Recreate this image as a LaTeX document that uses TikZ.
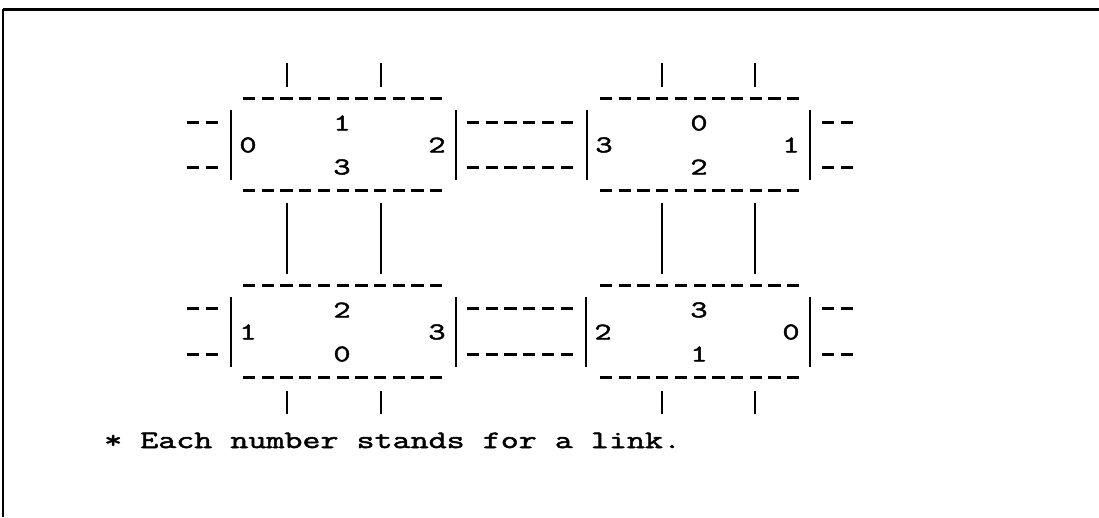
\documentclass[tikz,border=0pt]{standalone}
\usepackage{fontspec}
\newfontfamily\courfont[FakeStretch=1.4,FakeBold=2]{Latin Modern Mono}
\begin{document}
\begin{tikzpicture}[x=1pt,y=-1pt,
  dsh/.style={line width=3pt, dash pattern=on 12.3pt off 6.4pt},
  barline/.style={line width=1.8pt},
  lab/.style={font=\courfont\fontsize{24}{24}\selectfont, inner sep=0pt},
  note/.style={font=\courfont\fontsize{25}{25}\selectfont, inner sep=0pt}]
\useasboundingbox (0,0) rectangle (1099,517);
% frame
\draw[line width=3pt] (3,9) -- (1099,9);
\draw[line width=1.6pt] (3,9) -- (3,517);
% boxes
\foreach \L/\R/\T/\S/\a/\b/\c/\d/\n in {
  231/456/98/243/1/0/2/3/A,
  587/810/98/600/0/3/1/2/B,
  231/456/285/243/2/1/3/0/C,
  586/810/285/600/3/2/0/1/D}{
  \draw[dsh] (\S,\T) -- (\S+199,\T);
  \draw[dsh] (\S,\T+92) -- (\S+199,\T+92);
  \draw[barline] (\L,\T+12) -- (\L,\T+82);
  \draw[barline] (\R,\T+12) -- (\R,\T+82);
  \node[lab] (\n top) at (\S+99,\T+25) {\a};
  \node[lab] (\n left) at (\L+17,\T+47) {\b};
  \node[lab] (\n right) at (\R-19,\T+47) {\c};
  \node[lab] (\n bot) at (\S+99,\T+69) {\d};
}
% vertical links
\foreach \x in {287,381,662,755}{
  \draw[barline] (\x,63) -- (\x,87);
  \draw[barline] (\x,203) -- (\x,274);
  \draw[barline] (\x,391) -- (\x,414);
}
% horizontal links
\foreach \y in {122,167,308,354}{
  \draw[dsh] (187,\y) -- (218,\y);
  \draw[dsh] (467,\y) -- (573,\y);
  \draw[dsh] (822,\y) -- (853,\y);
}
\node[note, anchor=base west] (caption) at (104,448) {* Each number stands for a link.};
\end{tikzpicture}
\end{document}
